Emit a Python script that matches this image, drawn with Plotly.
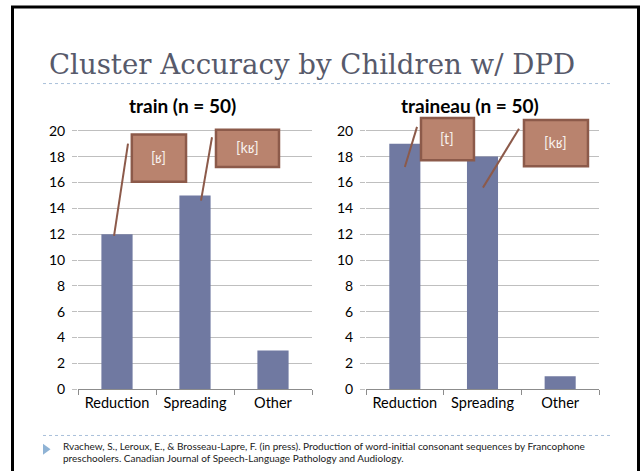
import plotly.graph_objects as go

# ---------------- data ----------------
categories = ["Reduction", "Spreading", "Other"]
train_counts = [12, 15, 3]
traineau_counts = [19, 18, 1]
panel_titles = ["train (n = 50)", "traineau (n = 50)"]
train_callouts = ["[ʁ]", "[kʁ]"]
traineau_callouts = ["[t]", "[kʁ]"]
y_ticks = list(range(0, 21, 2))
slide_title = "Cluster Accuracy by Children w/ DPD"
reference_lines = [
    "Rvachew, S., Leroux, E., & Brosseau-Lapre, F. (in press). Production of word-initial consonant sequences by Francophone",
    "preschoolers. Canadian Journal of Speech-Language Pathology and Audiology.",
]

# ---------------- layout helpers ----------------
W, H = 642, 471
def px(x):
    return x / W
def py(y):
    return 1 - y / H

AXIS_Y = 396
UNIT = 13.15          # pixels per y unit
YMAX = 21.6
top_px = AXIS_Y - YMAX * UNIT

BAR = "#7079A1"
BOX_FILL = "#B9836E"
BOX_LINE = "#8C5A4A"
GRID = "#BFBFBF"
SANS = "Lato, 'Open Sans', sans-serif"

# callout geometry (box x0, x1, ytop, ybottom ; line xa, ya, xb, yb) in data units
callout_geo = [
    [((0.19, 0.885, 19.7, 16.05), (0.141, 19.0, -0.038, 11.86)),
     ((1.269, 2.077, 20.08, 17.19), (1.218, 19.5, 1.077, 14.6))],
    [((0.208, 0.890, 20.99, 17.72), (0.157, 20.3, 0.0, 17.2)),
     ((1.534, 2.358, 20.84, 17.26), (1.47, 20.15, 1.006, 15.6))],
]

fig = go.Figure()
fig.add_trace(go.Bar(x=categories, y=train_counts, marker_color=BAR,
                     marker_line_width=0, xaxis="x", yaxis="y", hoverinfo="skip"))
fig.add_trace(go.Bar(x=categories, y=traineau_counts, marker_color=BAR,
                     marker_line_width=0, xaxis="x2", yaxis="y2", hoverinfo="skip"))

def xaxis(dom, anchor):
    return dict(domain=dom, type="category", tickson="boundaries", ticks="outside",
                ticklen=5, tickcolor="#8C8C8C", showline=True, linecolor="#8C8C8C",
                linewidth=1, showgrid=False, zeroline=False, anchor=anchor,
                tickfont=dict(family=SANS, size=14.5, color="#000000"),
                range=[-0.5, 2.5], fixedrange=True)

def yaxis(anchor):
    return dict(domain=[py(AXIS_Y), py(top_px)], range=[0, YMAX], tickvals=y_ticks,
                showgrid=True, gridcolor=GRID, gridwidth=1, zeroline=False,
                showline=False, ticks="outside", ticklen=5, tickcolor=GRID,
                tickfont=dict(family=SANS, size=14, color="#000000"),
                anchor=anchor, ticklabelstandoff=4, fixedrange=True)

fig.update_layout(
    width=W, height=H, margin=dict(l=0, r=0, t=0, b=0),
    paper_bgcolor="white", plot_bgcolor="white", showlegend=False,
    bargap=0.6,
    xaxis=xaxis([px(78), px(312)], "y"),
    yaxis=yaxis("x"),
    xaxis2=xaxis([px(366), px(599)], "y2"),
    yaxis2=yaxis("x2"),
)

shapes = []
annotations = []

# slide frame
shapes.append(dict(type="rect", xref="paper", yref="paper",
                   x0=px(12.5), x1=px(638.5), y0=-0.05, y1=py(7),
                   line=dict(color="#000000", width=3), fillcolor="rgba(0,0,0,0)", layer="above"))
# dotted rules
for yy in (85, 443):
    shapes.append(dict(type="line", xref="paper", yref="paper",
                       x0=px(43), x1=px(611), y0=py(yy), y1=py(yy),
                       line=dict(color="#A9C0DA", width=1, dash="dot")))
# bullet triangle
shapes.append(dict(type="path", xref="paper", yref="paper",
                   path=f"M {px(43)},{py(451.5)} L {px(50.5)},{py(457)} L {px(43)},{py(462.5)} Z",
                   fillcolor="#8FB3D5", line=dict(width=0)))

# title
annotations.append(dict(text=slide_title, xref="paper", yref="paper",
                        x=px(47), y=py(66), xanchor="left", yanchor="middle",
                        showarrow=False,
                        font=dict(family="DejaVu Serif", size=27.6, color="#575A6B")))

# panel titles
for t, cx in zip(panel_titles, (182.5, 470)):
    annotations.append(dict(text=f"<b>{t}</b>", xref="paper", yref="paper",
                            x=px(cx), y=py(107.5), xanchor="center", yanchor="middle",
                            showarrow=False,
                            font=dict(family=SANS, size=19, color="#000000")))

# callouts
for (labels, geos, xr, yr) in ((train_callouts, callout_geo[0], "x", "y"),
                               (traineau_callouts, callout_geo[1], "x2", "y2")):
    for lab, ((bx0, bx1, byt, byb), (la, lya, lb, lyb)) in zip(labels, geos):
        shapes.append(dict(type="line", xref=xr, yref=yr, x0=la, y0=lya, x1=lb, y1=lyb,
                           line=dict(color=BOX_LINE, width=2)))
        shapes.append(dict(type="rect", xref=xr, yref=yr, x0=bx0, x1=bx1, y0=byb, y1=byt,
                           fillcolor=BOX_FILL, line=dict(color=BOX_LINE, width=2.5)))
        annotations.append(dict(text=lab, xref=xr, yref=yr,
                                x=(bx0 + bx1) / 2, y=(byt + byb) / 2 + 0.05,
                                xanchor="center", yanchor="middle", showarrow=False,
                                font=dict(family=SANS, size=14.5, color="#F7F0EC")))

# reference
for i, line in enumerate(reference_lines):
    annotations.append(dict(text=line, xref="paper", yref="paper",
                            x=px(61), y=py(454 + 11.5 * i), xanchor="left", yanchor="middle",
                            showarrow=False,
                            font=dict(family=SANS, size=10, color="#1A1A1A")))

fig.update_layout(shapes=shapes, annotations=annotations)
fig.write_html("out.html", config={"displayModeBar": False},
               post_script="document.body.style.margin='0';document.body.style.padding='0';"
                           "document.body.style.overflow='hidden';")
